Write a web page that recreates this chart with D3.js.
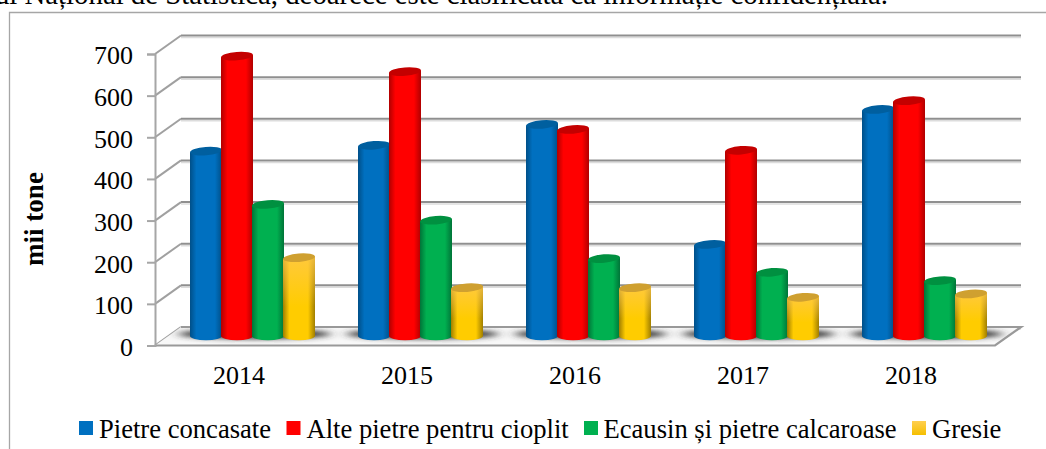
<!DOCTYPE html>
<html><head><meta charset="utf-8">
<script src="https://cdn.jsdelivr.net/npm/d3@7"></script>
<style>html,body{margin:0;padding:0;background:#fff;overflow:hidden}svg{display:block}text{font-family:"Liberation Serif",serif;fill:#000}</style>
</head><body><div id="c"></div>
<script>
const years = ["2014","2015","2016","2017","2018"];
const seriesNames = ["Pietre concasate","Alte pietre pentru cioplit","Ecausin și pietre calcaroase","Gresie"];
const pietre = [444,458,508,220,544];
const alte = [672,635,496,446,565];
const ecausin = [316,278,186,153,133];
const gresie = [188,116,116,93,101];
const seriesValues = [pietre,alte,ecausin,gresie];
const yTicks = [0,100,200,300,400,500,600,700];
const baseColors = ["#0070c0","#ff0000","#00b050","#ffcc00"];
const edgeColors = ["#004f88","#b00000","#007438","#a07e00"];
const topColors = ["#005f9f","#c40000","#009040","#cfa030"];
const introText = "ul Național de Statistică, deoarece este clasificată ca informație confidențială.";

const W=1046,H=449;
const svg=d3.select("#c").append("svg").attr("width",W).attr("height",H);
const defs=svg.append("defs");
const L=155,R=995,depthX=26,depthY=-18.5;
const y=d3.scaleLinear().domain([0,700]).range([345.5,54]);
const x0=d3.scaleBand().domain(years).range([L,R]);
const x1=d3.scaleBand().domain(seriesNames).range([-62,62]);
const rx=x1.bandwidth()/2+0.5, ry=4.2, tilt=1.2;
const midX=13.5, midY=-9.5;

baseColors.forEach((c,i)=>{
  const g=defs.append("linearGradient").attr("id","cyl"+i);
  [[0,edgeColors[i]],[.2,c],[.78,c],[1,edgeColors[i]]].forEach(s=>g.append("stop").attr("offset",s[0]).attr("stop-color",s[1]));
});
const yo=defs.append("linearGradient").attr("id","yo").attr("x1",0).attr("x2",0).attr("y1",0).attr("y2",1);
yo.append("stop").attr("offset",0).attr("stop-color","#ffc850").attr("stop-opacity",.75);
yo.append("stop").attr("offset",.6).attr("stop-color","#ffc850").attr("stop-opacity",0);
const yg=defs.append("linearGradient").attr("id","sw3").attr("x1",0).attr("x2",0).attr("y1",0).attr("y2",1);
yg.append("stop").attr("offset",0).attr("stop-color","#ffcf50");yg.append("stop").attr("offset",1).attr("stop-color","#f5bf00");
const blur=defs.append("filter").attr("id","blur").attr("x","-30%").attr("y","-150%").attr("width","160%").attr("height","400%");
blur.append("feGaussianBlur").attr("stdDeviation","6 2.5");
const floorPts=[[L,y(0)],[L+depthX,y(0)+depthY],[R+depthX,y(0)+depthY],[R,y(0)]];
defs.append("clipPath").attr("id","floor").append("polygon").attr("points",floorPts.join(" "));

// intro text and frame
svg.append("text").attr("x",888).attr("y",4).attr("text-anchor","end").attr("font-size",28.8).text(introText);
svg.append("path").attr("d",`M1046,12.5H9.5V449`).attr("fill","none").attr("stroke","#a6a6a6").attr("stroke-width",1.3);

// back wall gridlines
const grid=svg.append("g");
grid.selectAll("line.s").data(yTicks).join("line")
  .attr("x1",L+depthX).attr("x2",R+depthX).attr("y1",d=>y(d)+depthY+2).attr("y2",d=>y(d)+depthY+2)
  .attr("stroke","#dcdcdc").attr("stroke-width",1.5);
grid.selectAll("line.g").data(yTicks).join("line")
  .attr("x1",L+depthX).attr("x2",R+depthX).attr("y1",d=>y(d)+depthY).attr("y2",d=>y(d)+depthY)
  .attr("stroke","#8f8f8f").attr("stroke-width",2);
grid.selectAll("line.d").data(yTicks).join("line")
  .attr("x1",L).attr("x2",L+depthX).attr("y1",d=>y(d)).attr("y2",d=>y(d)+depthY)
  .attr("stroke","#a0a0a0").attr("stroke-width",2);

// floor
svg.append("polygon").attr("points",floorPts.join(" ")).attr("fill","#f8f8f8");
const shadow=svg.append("g").attr("clip-path","url(#floor)");
shadow.selectAll("ellipse").data(years).join("ellipse")
  .attr("cx",d=>x0(d)+x0.bandwidth()/2+midX+2).attr("cy",y(0)+midY-2)
  .attr("rx",76).attr("ry",5).attr("fill","#333").attr("filter","url(#blur)");
svg.append("polyline").attr("points",[floorPts[1],floorPts[2],floorPts[3],floorPts[0]].join(" ")).attr("fill","none").attr("stroke","#999").attr("stroke-width",2.2);

// y axis
const ax=svg.append("g").attr("transform",`translate(${L},0)`)
  .call(d3.axisLeft(y).tickValues(yTicks).tickSize(8).tickPadding(14).tickFormat(d3.format("d")));
ax.select(".domain").attr("stroke","#a6a6a6").attr("stroke-width",2);
ax.selectAll("line").attr("stroke","#a6a6a6").attr("stroke-width",2);
ax.selectAll("text").attr("font-size",26).attr("dy","0.38em");

// x axis labels
const bx=svg.append("g").attr("transform",`translate(0,${y(0)})`)
  .call(d3.axisBottom(x0).tickSize(0).tickPadding(20));
bx.select(".domain").remove();
bx.selectAll("text").attr("font-size",26);

// cylinders
const bars=svg.append("g");
seriesNames.forEach((s,i)=>{
  years.forEach((yr,j)=>{
    const cx=x0(yr)+x0.bandwidth()/2+midX+x1(s)+x1.bandwidth()/2;
    const b=y(0)+midY, t=y(seriesValues[i][j])+midY;
    const d=`M${cx-rx},${t+tilt}V${b}A${rx},${ry} 0 0 0 ${cx+rx},${b}V${t-tilt}Z`;
    bars.append("path").attr("d",d).attr("fill",`url(#cyl${i})`);
    if(i===3) bars.append("path").attr("d",d).attr("fill","url(#yo)");
    bars.append("ellipse").attr("transform",`translate(${cx},${t}) rotate(-4.5)`).attr("rx",rx).attr("ry",ry).attr("fill",topColors[i]);
  });
});

// axis title
svg.append("text").attr("transform","translate(43,219) rotate(-90)").attr("text-anchor","middle")
  .attr("font-weight","bold").attr("font-size",27).text("mii tone");

// legend
const legX=[79,286.5,584,912];
const leg=svg.append("g").selectAll("g").data(seriesNames).join("g").attr("transform",(d,i)=>`translate(${legX[i]},0)`);
leg.append("rect").attr("y",421).attr("width",14).attr("height",14).attr("fill",(d,i)=>i==3?"url(#sw3)":baseColors[i]);
leg.append("text").attr("x",(d,i)=>i==2?19.5:20).attr("y",437.5).attr("font-size",26.6).text(d=>d);
</script></body></html>
